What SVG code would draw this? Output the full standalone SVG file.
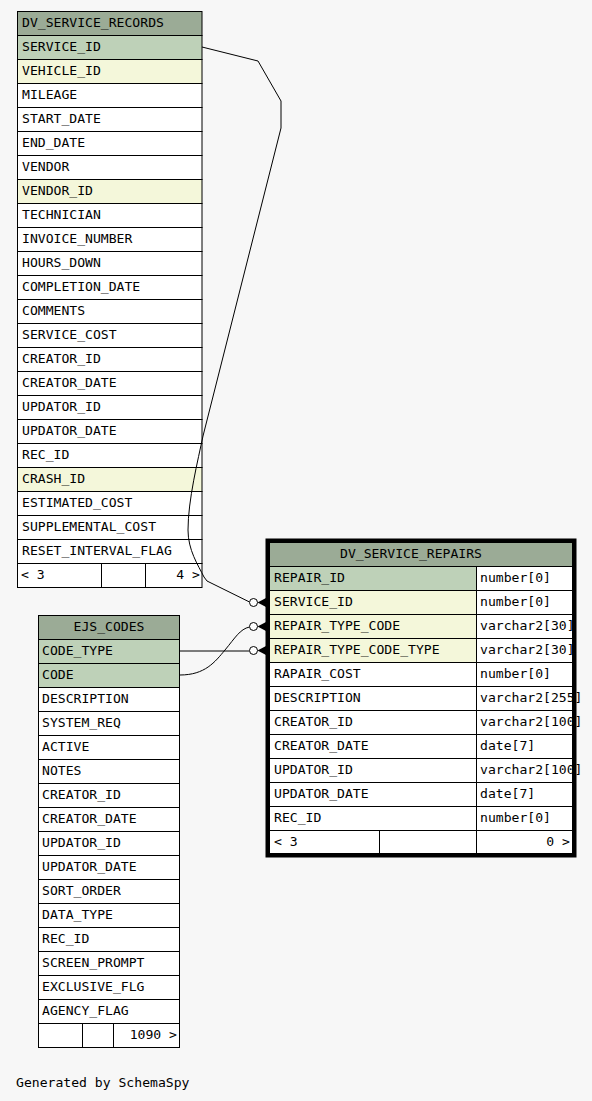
<svg xmlns="http://www.w3.org/2000/svg" width="592" height="1101" viewBox="0 0 592 1101">
<style>
text{font-family:"DejaVu Sans Mono","Liberation Mono",monospace;font-size:13.1px;fill:#000}
.c{stroke:#000;stroke-width:1;fill:#fff}
.h{stroke:#000;stroke-width:1;fill:#9bab96}
.pk{stroke:#000;stroke-width:1;fill:#bed1b8}
.fk{stroke:#000;stroke-width:1;fill:#f4f7da}
.e{fill:none;stroke:#000;stroke-width:1}
.dot{fill:#fff;stroke:#000;stroke-width:1}
.m{text-anchor:middle}
.r{text-anchor:end}
</style>
<rect width="592" height="1101" fill="#f7f7f7"/>

<g id="DV_SERVICE_RECORDS">
<rect class="h" x="17.5" y="11.5" width="184.5" height="24"/><text x="22" y="27">DV_SERVICE_RECORDS</text>
<rect class="pk" x="17.5" y="35.5" width="184.5" height="24"/><text x="22" y="51">SERVICE_ID</text>
<rect class="fk" x="17.5" y="59.5" width="184.5" height="24"/><text x="22" y="75">VEHICLE_ID</text>
<rect class="c" x="17.5" y="83.5" width="184.5" height="24"/><text x="22" y="99">MILEAGE</text>
<rect class="c" x="17.5" y="107.5" width="184.5" height="24"/><text x="22" y="123">START_DATE</text>
<rect class="c" x="17.5" y="131.5" width="184.5" height="24"/><text x="22" y="147">END_DATE</text>
<rect class="c" x="17.5" y="155.5" width="184.5" height="24"/><text x="22" y="171">VENDOR</text>
<rect class="fk" x="17.5" y="179.5" width="184.5" height="24"/><text x="22" y="195">VENDOR_ID</text>
<rect class="c" x="17.5" y="203.5" width="184.5" height="24"/><text x="22" y="219">TECHNICIAN</text>
<rect class="c" x="17.5" y="227.5" width="184.5" height="24"/><text x="22" y="243">INVOICE_NUMBER</text>
<rect class="c" x="17.5" y="251.5" width="184.5" height="24"/><text x="22" y="267">HOURS_DOWN</text>
<rect class="c" x="17.5" y="275.5" width="184.5" height="24"/><text x="22" y="291">COMPLETION_DATE</text>
<rect class="c" x="17.5" y="299.5" width="184.5" height="24"/><text x="22" y="315">COMMENTS</text>
<rect class="c" x="17.5" y="323.5" width="184.5" height="24"/><text x="22" y="339">SERVICE_COST</text>
<rect class="c" x="17.5" y="347.5" width="184.5" height="24"/><text x="22" y="363">CREATOR_ID</text>
<rect class="c" x="17.5" y="371.5" width="184.5" height="24"/><text x="22" y="387">CREATOR_DATE</text>
<rect class="c" x="17.5" y="395.5" width="184.5" height="24"/><text x="22" y="411">UPDATOR_ID</text>
<rect class="c" x="17.5" y="419.5" width="184.5" height="24"/><text x="22" y="435">UPDATOR_DATE</text>
<rect class="c" x="17.5" y="443.5" width="184.5" height="24"/><text x="22" y="459">REC_ID</text>
<rect class="fk" x="17.5" y="467.5" width="184.5" height="24"/><text x="22" y="483">CRASH_ID</text>
<rect class="c" x="17.5" y="491.5" width="184.5" height="24"/><text x="22" y="507">ESTIMATED_COST</text>
<rect class="c" x="17.5" y="515.5" width="184.5" height="24"/><text x="22" y="531">SUPPLEMENTAL_COST</text>
<rect class="c" x="17.5" y="539.5" width="184.5" height="24"/><text x="22" y="555">RESET_INTERVAL_FLAG</text>
<rect class="c" x="17.5" y="563.5" width="84" height="24"/>
<rect class="c" x="101.5" y="563.5" width="44" height="24"/>
<rect class="c" x="145.5" y="563.5" width="56.5" height="24"/>
<text x="21" y="579">&lt; 3</text><text class="r" x="200" y="579">4 &gt;</text>
</g>

<g id="EJS_CODES">
<rect class="h" x="38.5" y="615.5" width="141" height="24"/><text class="m" x="109" y="631">EJS_CODES</text>
<rect class="pk" x="38.5" y="639.5" width="141" height="24"/><text x="42" y="655">CODE_TYPE</text>
<rect class="pk" x="38.5" y="663.5" width="141" height="24"/><text x="42" y="679">CODE</text>
<rect class="c" x="38.5" y="687.5" width="141" height="24"/><text x="42" y="703">DESCRIPTION</text>
<rect class="c" x="38.5" y="711.5" width="141" height="24"/><text x="42" y="727">SYSTEM_REQ</text>
<rect class="c" x="38.5" y="735.5" width="141" height="24"/><text x="42" y="751">ACTIVE</text>
<rect class="c" x="38.5" y="759.5" width="141" height="24"/><text x="42" y="775">NOTES</text>
<rect class="c" x="38.5" y="783.5" width="141" height="24"/><text x="42" y="799">CREATOR_ID</text>
<rect class="c" x="38.5" y="807.5" width="141" height="24"/><text x="42" y="823">CREATOR_DATE</text>
<rect class="c" x="38.5" y="831.5" width="141" height="24"/><text x="42" y="847">UPDATOR_ID</text>
<rect class="c" x="38.5" y="855.5" width="141" height="24"/><text x="42" y="871">UPDATOR_DATE</text>
<rect class="c" x="38.5" y="879.5" width="141" height="24"/><text x="42" y="895">SORT_ORDER</text>
<rect class="c" x="38.5" y="903.5" width="141" height="24"/><text x="42" y="919">DATA_TYPE</text>
<rect class="c" x="38.5" y="927.5" width="141" height="24"/><text x="42" y="943">REC_ID</text>
<rect class="c" x="38.5" y="951.5" width="141" height="24"/><text x="42" y="967">SCREEN_PROMPT</text>
<rect class="c" x="38.5" y="975.5" width="141" height="24"/><text x="42" y="991">EXCLUSIVE_FLG</text>
<rect class="c" x="38.5" y="999.5" width="141" height="24"/><text x="42" y="1015">AGENCY_FLAG</text>
<rect class="c" x="38.5" y="1023.5" width="44" height="24"/>
<rect class="c" x="82.5" y="1023.5" width="31" height="24"/>
<rect class="c" x="113.5" y="1023.5" width="66" height="24"/>
<text class="r" x="177" y="1039">1090 &gt;</text>
</g>

<g id="DV_SERVICE_REPAIRS">
<rect x="267.5" y="540.5" width="307" height="315" fill="none" stroke="#000" stroke-width="4"/>
<rect class="h" x="269.5" y="542.5" width="303" height="24"/><text class="m" x="411" y="558">DV_SERVICE_REPAIRS</text>
<rect class="pk" x="269.5" y="566.5" width="207" height="24"/>
<rect class="c" x="476.5" y="566.5" width="96" height="24"/>
<rect class="fk" x="269.5" y="590.5" width="207" height="24"/>
<rect class="c" x="476.5" y="590.5" width="96" height="24"/>
<rect class="fk" x="269.5" y="614.5" width="207" height="24"/>
<rect class="c" x="476.5" y="614.5" width="96" height="24"/>
<rect class="fk" x="269.5" y="638.5" width="207" height="24"/>
<rect class="c" x="476.5" y="638.5" width="96" height="24"/>
<rect class="c" x="269.5" y="662.5" width="207" height="24"/>
<rect class="c" x="476.5" y="662.5" width="96" height="24"/>
<rect class="c" x="269.5" y="686.5" width="207" height="24"/>
<rect class="c" x="476.5" y="686.5" width="96" height="24"/>
<rect class="c" x="269.5" y="710.5" width="207" height="24"/>
<rect class="c" x="476.5" y="710.5" width="96" height="24"/>
<rect class="c" x="269.5" y="734.5" width="207" height="24"/>
<rect class="c" x="476.5" y="734.5" width="96" height="24"/>
<rect class="c" x="269.5" y="758.5" width="207" height="24"/>
<rect class="c" x="476.5" y="758.5" width="96" height="24"/>
<rect class="c" x="269.5" y="782.5" width="207" height="24"/>
<rect class="c" x="476.5" y="782.5" width="96" height="24"/>
<rect class="c" x="269.5" y="806.5" width="207" height="24"/>
<rect class="c" x="476.5" y="806.5" width="96" height="24"/>
<rect class="c" x="269.5" y="830.5" width="110" height="23"/>
<rect class="c" x="379.5" y="830.5" width="97" height="23"/>
<rect class="c" x="476.5" y="830.5" width="96" height="23"/>
<text x="274" y="582">REPAIR_ID</text><text x="480" y="582">number[0]</text>
<text x="274" y="606">SERVICE_ID</text><text x="480" y="606">number[0]</text>
<text x="274" y="630">REPAIR_TYPE_CODE</text><text x="480" y="630">varchar2[30]</text>
<text x="274" y="654">REPAIR_TYPE_CODE_TYPE</text><text x="480" y="654">varchar2[30]</text>
<text x="274" y="678">RAPAIR_COST</text><text x="480" y="678">number[0]</text>
<text x="274" y="702">DESCRIPTION</text><text x="480" y="702">varchar2[255]</text>
<text x="274" y="726">CREATOR_ID</text><text x="480" y="726">varchar2[100]</text>
<text x="274" y="750">CREATOR_DATE</text><text x="480" y="750">date[7]</text>
<text x="274" y="774">UPDATOR_ID</text><text x="480" y="774">varchar2[100]</text>
<text x="274" y="798">UPDATOR_DATE</text><text x="480" y="798">date[7]</text>
<text x="274" y="822">REC_ID</text><text x="480" y="822">number[0]</text>
<text x="274" y="846">&lt; 3</text><text class="r" x="570" y="846">0 &gt;</text>
</g>

<g id="connectors">
<path class="e" d="M202,47 L258,61 L281,101 L281,128 L203,436 C198,460 188,500 188,530 C188,550 198,565 204,577 L207,581 L249.5,602"/>
<circle class="dot" cx="253.5" cy="602.5" r="4"/>
<polygon points="257.5,602.5 266,598 266,607" fill="#000"/>
<path class="e" d="M180,675 C205,675 215,662 225,650 C235,638 240,629 249.5,627"/>
<circle class="dot" cx="253.5" cy="626.5" r="4"/>
<polygon points="257.5,626.5 266,622 266,631" fill="#000"/>
<path class="e" d="M179,651 L249.5,651"/>
<circle class="dot" cx="253.5" cy="650.5" r="4"/>
<polygon points="257.5,650.5 266,646 266,655" fill="#000"/>
</g>

<text x="16" y="1087">Generated by SchemaSpy</text>
</svg>
